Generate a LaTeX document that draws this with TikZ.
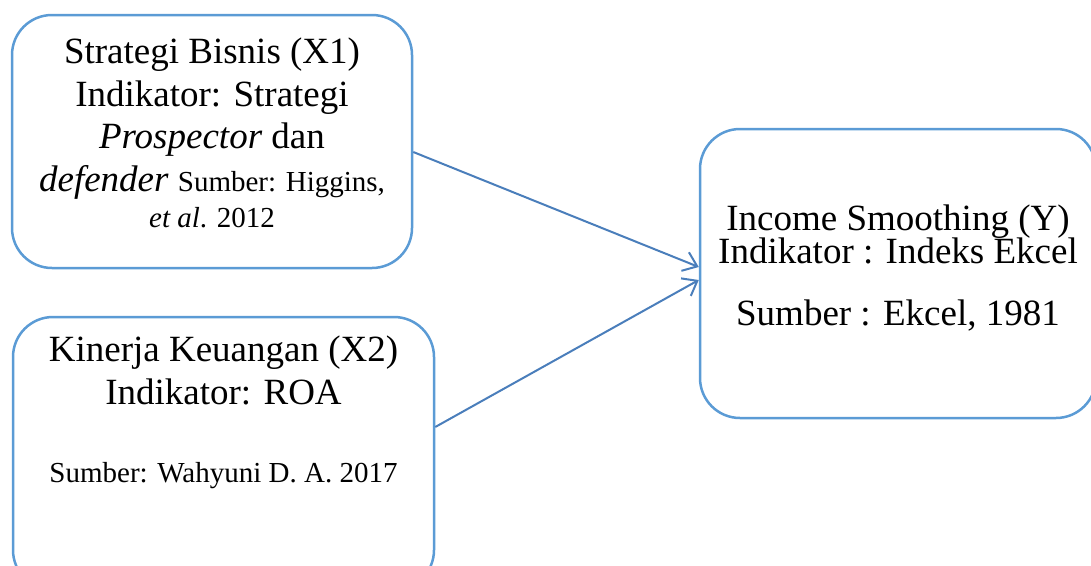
\documentclass[tikz,border=0pt]{standalone}
\usepackage{fontspec}
\setmainfont{Liberation Serif}
\usetikzlibrary{arrows.meta,positioning}
\definecolor{boxblue}{HTML}{5B9BD5}
\definecolor{arrowblue}{HTML}{4A7EBB}
\newcommand{\sumberfont}{\fontsize{29}{36}\selectfont}

\begin{document}
\begin{tikzpicture}[x=1pt,y=-1pt,
    var/.style={draw=boxblue, line width=2.5pt, rounded corners=40pt, inner sep=0pt},
    txt/.style={align=center, inner sep=0pt, font=\fontsize{37}{42.5}\selectfont},
    link/.style={draw=arrowblue, line width=2pt, -{Straight Barb[length=13pt,width=20pt]}}]
    \useasboundingbox (0,0) rectangle (1091,565);
    % Boxes
    \node[var, minimum width=400pt, minimum height=253pt] (x1) at (212,141.5) {};
    \node[var, minimum width=421pt, minimum height=273pt] (x2) at (223.5,453.5) {};
    \node[var, minimum width=396pt, minimum height=289pt] (y) at (898,273.5) {};
    % Texts
    \node[txt, below=24pt of x1.north] (x1t) {Strategi Bisnis (X1)\\
      Indikator: Strategi\\
      \textit{Prospector} dan\\
      \textit{defender} {\sumberfont Sumber: Higgins,}\\[-6.5pt]
      {\sumberfont\textit{et al}. 2012}};
    \node[txt, below=20pt of x2.north] (x2t) {Kinerja Keuangan (X2)\\
      Indikator: ROA\\[35.5pt]
      {\sumberfont Sumber: Wahyuni D. A. 2017}};
    \node[txt, below=77pt of y.north] (yt) {Income Smoothing (Y)\\[-9.5pt]
      Indikator : Indeks Ekcel\\[19.5pt]
      Sumber : Ekcel, 1981};
    % Arrows
    \draw[link] ([yshift=-10.5pt]x1.east) -- ([yshift=6.5pt]y.west);
    \draw[link] ([yshift=26.5pt]x2.east) -- ([yshift=-6.5pt]y.west);
\end{tikzpicture}
\end{document}
